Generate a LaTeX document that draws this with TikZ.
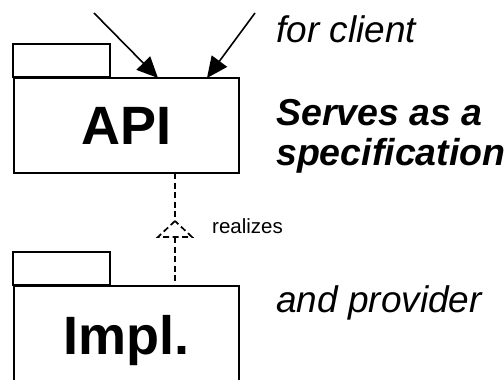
\documentclass[tikz,border=0pt]{standalone}
\usepackage{fontspec}
\setmainfont{Liberation Sans}
\usetikzlibrary{arrows.meta}
\begin{document}
\begin{tikzpicture}[x=1pt,y=-1pt,
  pkgbody/.style={draw=black,line width=1.7pt,inner sep=0pt,
    minimum width=225pt,text depth=0pt,font=\fontsize{54}{60}\selectfont\bfseries},
  pkgtab/.style={draw=black,line width=1.7pt},
  usearrow/.style={line width=1.6pt,-{Triangle[length=21pt,width=19pt]}},
  dashline/.style={line width=1.7pt,dash pattern=on 6pt off 3.5pt},
  note/.style={anchor=base west,inner sep=0pt,font=\fontsize{37}{40}\selectfont\itshape},
  bignote/.style={anchor=base west,inner sep=0pt,align=left,
    font=\fontsize{37.5}{40}\selectfont\bfseries\itshape},
  smallnote/.style={anchor=base west,inner sep=0pt,font=\fontsize{20.5}{24}\selectfont}]
\useasboundingbox (0,0) rectangle (504,380);
\clip (0,0) rectangle (504,380);

% API package
\node[pkgbody,minimum height=95pt] (api) at (126.5,125.5) {API};
\draw[pkgtab] (api.north west) rectangle ++(97,-33);

% Impl package
\node[pkgbody,minimum height=97pt] (impl) at (126.5,334.5) {Impl.};
\draw[pkgtab] (impl.north west) rectangle ++(97,-33);

% incoming usage arrows
\coordinate (c1) at (94,13);
\coordinate (c2) at (255,13);
\coordinate (t1) at (158,78);
\coordinate (t2) at (207,78);
\draw[usearrow] (c1) -- (t1);
\draw[usearrow] (c2) -- (t2);

% realization: dashed line with hollow dashed triangle
\coordinate (rtop) at (175,173);
\coordinate (rbot) at (175,286);
\coordinate (tip) at (175,221);
\draw[dashline] (rtop) -- (tip);
\draw[dashline] (175,237) -- (rbot);
\draw[dashline,line join=miter] (tip) -- (158,237) -- (192,237) -- cycle;
\node[smallnote] (real) at (212,233) {realizes};

% side notes
\node[note] (client) at (276,42) {for client};
\node[bignote] (spec1) at (276,125) {Serves as a};
\node[bignote] (spec2) at (276,165) {specification};
\node[note] (prov) at (276,312) {and provider};
\end{tikzpicture}
\end{document}
